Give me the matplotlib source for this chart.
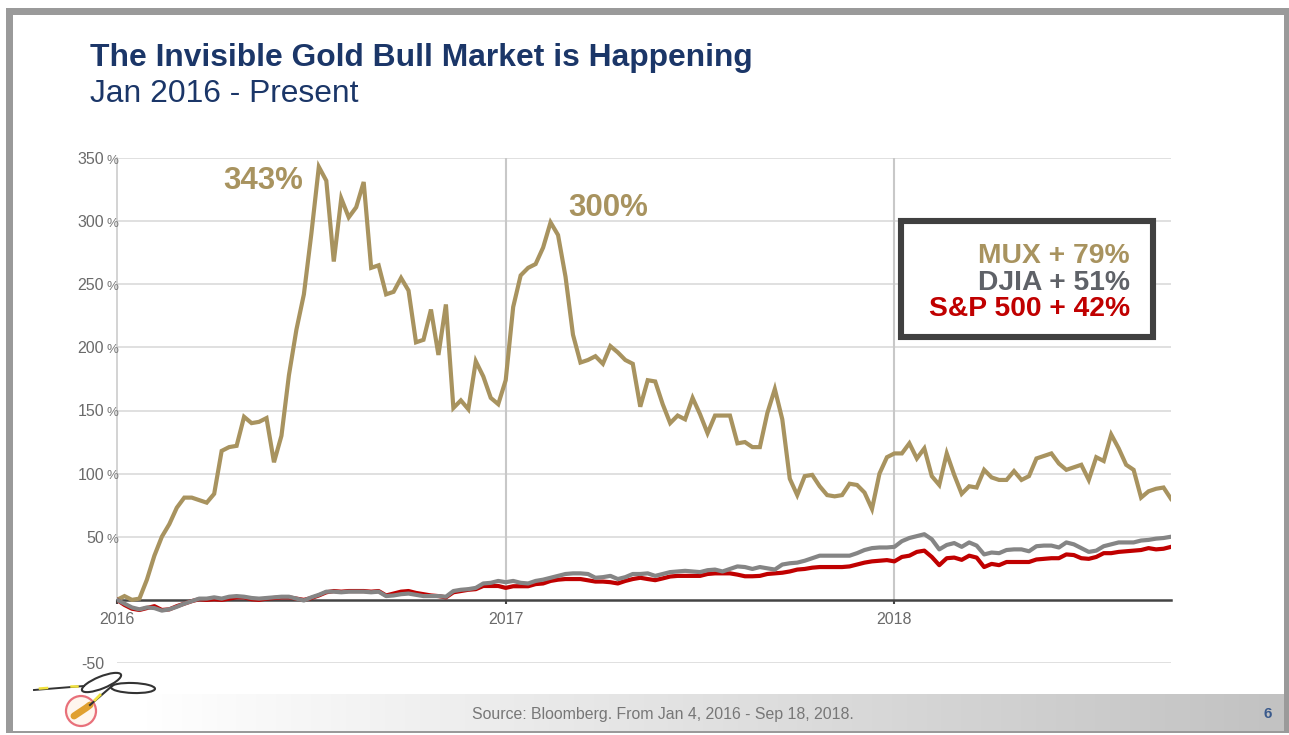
import numpy as np
import pandas as pd
import matplotlib
matplotlib.use("Agg")
import matplotlib.pyplot as plt
from matplotlib.colors import LinearSegmentedColormap
from matplotlib.patches import Rectangle, Ellipse, Circle

plt.rcParams['font.family'] = ['Liberation Sans', 'DejaVu Sans']

# weekly returns in percent since the start of 2016
mux = [0, 3, 0, 1, 16, 35, 50, 60, 73, 81, 81, 79, 77, 84, 118, 121, 122, 145, 140, 141, 144,
       109, 130, 178, 214, 242, 290, 343, 332, 268, 318, 303, 311, 331, 263, 265, 242, 244, 255, 245,
       204, 206, 230, 194, 234, 152, 158, 151, 189, 177, 160, 155, 174, 232, 257, 263, 266, 279, 299, 289,
       256, 210, 188, 190, 193, 187, 201, 196, 190, 187, 153, 174, 173, 155, 140, 146, 143, 160, 147, 132,
       146, 146, 146, 124, 125, 121, 121, 148, 167, 143, 96, 83, 98, 99, 90, 83, 82, 83, 92, 91,
       85, 72, 100, 113, 116, 116, 124, 112, 120, 98, 91, 116, 99, 84, 90, 89, 103, 97, 95, 95,
       102, 95, 98, 112, 114, 116, 108, 103, 105, 107, 95, 113, 110, 131, 120, 107, 103, 81, 86, 88,
       89, 80]
djia = [0, -3, -6, -7.5, -6, -6.5, -8.5, -7.5, -5.5, -3, -1, 1, 1, 2, 1, 2.5, 3, 2.5, 1.5, 1,
        1.5, 2, 2.5, 2.5, 1, -0.5, 2, 4, 6.5, 6.5, 6, 6.5, 6.5, 6.5, 6, 6.5, 3, 3.5, 4.5, 5,
        4, 3, 3, 3, 2.5, 7, 8, 8.5, 9.5, 13, 13.5, 15, 14, 15, 13.5, 13, 15, 16, 17.5, 19,
        20.5, 21, 21, 20.5, 17.5, 18, 19, 16.5, 18, 20.5, 20.5, 21, 19, 20.5, 22, 22.5, 23, 22.5, 22, 23.5,
        24, 22.5, 24.5, 26.5, 26, 24.5, 26, 25, 24, 28, 29, 29.5, 31, 33, 35, 35, 35, 35, 35, 37,
        39.5, 41, 41.5, 41.5, 42, 46.5, 49, 50.5, 52, 48, 40, 43.5, 45, 42, 45.5, 43, 36, 37.5, 37, 39.5,
        40, 40, 38.5, 42.5, 43, 43, 41.5, 45.5, 44, 41, 38, 39, 42.5, 44, 45.5, 45.5, 45.5, 47, 47.5, 48.5,
        49, 50]
spx = [0, -4, -7, -8, -6.5, -5, -8, -7.5, -5, -3, -1, 0.5, 0, 0.5, 0, 1, 2, 2, 0.5, 0,
       1, 1.5, 2, 2, 1, 0, 1.5, 3.5, 6, 7, 6.5, 7, 7, 7, 6.5, 7, 3.5, 5, 6.5, 7,
       5.5, 4.5, 3.5, 3, 2, 6, 7, 8, 8.5, 11, 11, 11, 9.5, 10.8, 10.8, 10.8, 12.5, 13, 15, 16,
       16.5, 16.5, 16.5, 15.5, 14.5, 14.5, 14, 13, 15, 16.5, 17.5, 16.5, 15.6, 17, 18.5, 19, 19, 19, 19, 20.5,
       21, 21, 21, 20, 18.7, 18.7, 19, 20.5, 21, 21.5, 22.5, 24, 24.5, 25.5, 26, 26, 26, 26, 26.5, 28,
       29.5, 30.5, 31, 31.5, 30.5, 34, 35, 38, 39, 34, 27.5, 33, 33.5, 31.7, 35, 33.5, 26, 28.5, 27.5, 30,
       30, 30, 30, 32, 32.5, 33, 33, 36, 35.5, 33, 32.5, 34, 37, 37, 38, 38.5, 39, 39.5, 41, 40,
       40.5, 42]

dates = pd.date_range("2016-01-01", "2018-09-18", periods=len(mux))
years = pd.to_datetime(["2016-01-01", "2017-01-01", "2018-01-01"])
year_labels = ["2016", "2017", "2018"]
yvals = [-50, 50, 100, 150, 200, 250, 300, 350]
ylabels = ["-50", "50", "100", "150", "200", "250", "300", "350"]

legend_rows = ["MUX + 79%", "DJIA + 51%", "S&P 500 + 42%"]
peak_labels = [("2016-05-17", 331.5, "343%"), ("2017-04-07", 310.5, "300%")]

GOLD = "#a8935f"
GREY = "#858585"
RED = "#c00000"
NAVY = "#1b3668"

W, H = 1289, 735
fig = plt.figure(figsize=(W / 100, H / 100), dpi=100, facecolor="white")


def px_axes(zorder):
    a = fig.add_axes([0, 0, 1, 1], zorder=zorder)
    a.set_xlim(0, W)
    a.set_ylim(H, 0)
    a.axis("off")
    return a


# slide background
bg = px_axes(0)
bg.add_patch(Rectangle((6, 8), W - 6, 725, fc="#9a9a9a", ec="none"))
bg.add_patch(Rectangle((13, 15), 1271, 716, fc="white", ec="none"))
grad = np.clip((np.linspace(0, 1, 256).reshape(1, -1) - 0.1) / 0.9, 0, 1)
bg.imshow(grad, extent=(13, 1284, 731, 694), cmap=LinearSegmentedColormap.from_list("band", ["#ffffff", "#c2c2c2"]),
          aspect="auto", zorder=1)
bg.set_xlim(0, W)
bg.set_ylim(H, 0)

# main chart
ax = fig.add_axes([117 / W, 1 - 663 / H, (1171 - 117) / W, (663 - 158) / H], zorder=1)
ax.patch.set_alpha(0)
ax.set_xlim(pd.Timestamp("2016-01-01"), pd.Timestamp("2018-09-18"))
ax.set_ylim(-50, 350)
for s in ["top", "right"]:
    ax.spines[s].set_visible(False)
ax.spines["left"].set_color("#cccccc")
ax.spines["left"].set_linewidth(1.2)
ax.spines["left"].set_bounds(0, 350)

ax.set_yticks(yvals)
ax.set_yticklabels(ylabels, fontsize=11.5, color="#6a6a6a")
ax.tick_params(axis="y", length=0, pad=9.4)
ax.yaxis.grid(True, color="#dadada", lw=1.2)
ax.set_axisbelow(True)

# small percent signs next to the positive tick labels
for v in yvals[1:]:
    ax.annotate("%", xy=(0, v), xycoords=ax.get_yaxis_transform(), xytext=(1, -2), textcoords="offset points",
                ha="right", va="center", fontsize=9.5, color="#777777", annotation_clip=False)

ax.set_xticks(years)
ax.set_xticklabels(year_labels)
ax.tick_params(axis="x", length=3, width=1.5, color="#444444", labelcolor="#6a6a6a", labelsize=11.5,
               direction="out", pad=6)
# the date axis sits on the zero line
ax.spines["bottom"].set_position(("data", 0))
ax.spines["bottom"].set_color("#444444")
ax.spines["bottom"].set_linewidth(1.8)

ax.vlines(years[1:], 0, 350, color="#c8c8c8", lw=1.5, zorder=1)

ax.plot(dates, mux, color=GOLD, lw=3, solid_joinstyle="miter", zorder=3)
ax.plot(dates, spx, color=RED, lw=3, solid_joinstyle="round", zorder=4)
ax.plot(dates, djia, color=GREY, lw=3, solid_joinstyle="round", zorder=5)

for d, y, txt in peak_labels:
    ax.text(pd.Timestamp(d), y, txt, color=GOLD, fontsize=22.5, fontweight="bold", ha="center", va="center")

# titles, legend box, footer
top = px_axes(2)
top.patch.set_alpha(0)
top.text(90, 66, "The Invisible Gold Bull Market is Happening", color=NAVY, fontsize=22.9, fontweight="bold", va="baseline")
top.text(90, 102, "Jan 2016 - Present", color=NAVY, fontsize=22.9, va="baseline")

top.add_patch(Rectangle((900.5, 221), 252.5, 116, fc="white", ec="#404040", lw=4.4, joinstyle="miter"))
for txt, c, y in zip(legend_rows, [GOLD, "#5f6268", RED], [256, 283, 309]):
    top.text(1130, y, txt, color=c, fontsize=20.3, fontweight="bold", ha="right", va="center")

top.text(663, 714, "Source: Bloomberg. From Jan 4, 2016 - Sep 18, 2018.", color="#777777", fontsize=11.4, ha="center", va="center")
top.text(1268, 714, "6", color="#3a5a8c", fontsize=11, fontweight="bold", ha="center", va="center")

# signature with the struck-through nugget
top.add_patch(Circle((81, 711), 15, fc="#fff6ee", ec="#e8707a", lw=1.6))
top.plot([74, 80, 86, 90], [716, 712, 708, 705], color="#e0a030", lw=5, solid_capstyle="round")
top.plot([34, 84], [690, 686], color="#333333", lw=1.4)
top.add_patch(Ellipse((101.5, 682.5), 42, 12, angle=-22, fc="none", ec="#333333", lw=1.5))
top.add_patch(Ellipse((133, 688), 44, 10, angle=2, fc="none", ec="#333333", lw=1.5))
top.plot([112, 90], [686, 705], color="#333333", lw=1.5)
top.plot([40, 47], [688.5, 688], color="#f2e23c", lw=1.8)
top.plot([71, 77], [686, 686], color="#f2e23c", lw=1.8)
top.plot([95, 100], [700, 695], color="#f2e23c", lw=2)

fig.savefig("out.png", dpi=100)
